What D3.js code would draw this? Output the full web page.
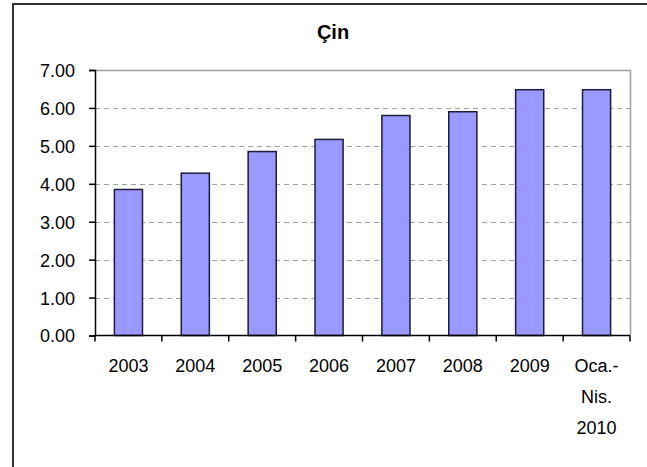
<!DOCTYPE html>
<html>
<head>
<meta charset="utf-8">
<script src="https://cdn.jsdelivr.net/npm/d3@7"></script>
<style>
  body { margin: 0; background: #fff; }
  text { font-family: "Liberation Sans", Arial, sans-serif; fill: #000; }
</style>
</head>
<body>
<script>
// data
var categories = ["2003", "2004", "2005", "2006", "2007", "2008", "2009", "Oca.-|Nis.|2010"];
var values = [3.85, 4.28, 4.85, 5.17, 5.80, 5.90, 6.48, 6.48];
var yTicks = [0, 1, 2, 3, 4, 5, 6, 7];
var title = "Çin";

var svg = d3.select("body").append("svg").attr("width", 647).attr("height", 467);

// chart frame
svg.append("rect")
  .attr("x", 13).attr("y", 4)
  .attr("width", 660).attr("height", 500)
  .style("fill", "#fff")
  .attr("stroke", "#333")
  .attr("stroke-width", 2);

var plotL = 95, plotR = 630, plotT = 70, plotB = 335.5;

var x = d3.scaleBand().domain(categories).range([plotL, plotR]).paddingInner(0.58).paddingOuter(0.29);
var y = d3.scaleLinear().domain([0, 7]).range([plotB, plotT]);

// gridlines (dashed)
svg.append("g").selectAll("line")
  .data(yTicks.filter(function(d) { return d > 0 && d < 7; }))
  .enter().append("line")
  .attr("x1", plotL).attr("x2", plotR)
  .attr("y1", function(d) { return Math.round(y(d)) + 0.5; })
  .attr("y2", function(d) { return Math.round(y(d)) + 0.5; })
  .attr("stroke", "#a0a0a0")
  .attr("stroke-dasharray", "5,4");

// top and right edges of plot area
svg.append("path")
  .attr("d", "M" + plotL + "," + (plotT + 0.5) + "H" + (plotR + 0.5) + "V" + plotB)
  .attr("fill", "none")
  .attr("stroke", "#a0a0a0")
  .attr("stroke-width", 1.5);

// bars
svg.append("g").selectAll("rect")
  .data(values)
  .enter().append("rect")
  .attr("x", function(d, i) { return x(categories[i]); })
  .attr("y", function(d) { return y(d); })
  .attr("width", x.bandwidth())
  .attr("height", function(d) { return plotB - y(d); })
  .style("fill", "#9999FF")
  .attr("stroke", "#1c1c3c")
  .attr("stroke-width", 1.5);

// y axis
var yAxis = d3.axisLeft(y).tickValues(yTicks).tickSize(6).tickPadding(14)
  .tickFormat(d3.format(".2f"));
var gy = svg.append("g").attr("transform", "translate(" + plotL + ",0)").call(yAxis);
gy.select(".domain").attr("stroke", "#000").attr("stroke-width", 1.5);
gy.selectAll(".tick line").attr("stroke", "#000").attr("stroke-width", 1.5);
gy.selectAll(".tick text").style("font-size", "18px").attr("dy", "0.36em");

// x axis with ticks at category boundaries
var bounds = d3.range(categories.length + 1).map(function(i) {
  return plotL + i * (plotR - plotL) / categories.length;
});
svg.append("line")
  .attr("x1", plotL).attr("x2", plotR)
  .attr("y1", plotB).attr("y2", plotB)
  .attr("stroke", "#000").attr("stroke-width", 1.5);
svg.append("g").selectAll("line")
  .data(bounds).enter().append("line")
  .attr("x1", function(d) { return d; }).attr("x2", function(d) { return d; })
  .attr("y1", plotB).attr("y2", plotB + 6)
  .attr("stroke", "#000").attr("stroke-width", 1.5);

var labels = svg.append("g").selectAll("text")
  .data(categories).enter().append("text")
  .attr("x", function(d) { return x(d) + x.bandwidth() / 2; })
  .attr("y", 372)
  .attr("text-anchor", "middle")
  .style("font-size", "18px");
labels.each(function(d) {
  var t = d3.select(this);
  d.split("|").forEach(function(line, i) {
    t.append("tspan")
      .attr("x", t.attr("x"))
      .attr("dy", i === 0 ? 0 : 31)
      .text(line);
  });
});

// title
svg.append("text")
  .attr("x", 333).attr("y", 39)
  .attr("text-anchor", "middle")
  .style("font-size", "20px")
  .style("font-weight", "bold")
  .text(title);
</script>
</body>
</html>
